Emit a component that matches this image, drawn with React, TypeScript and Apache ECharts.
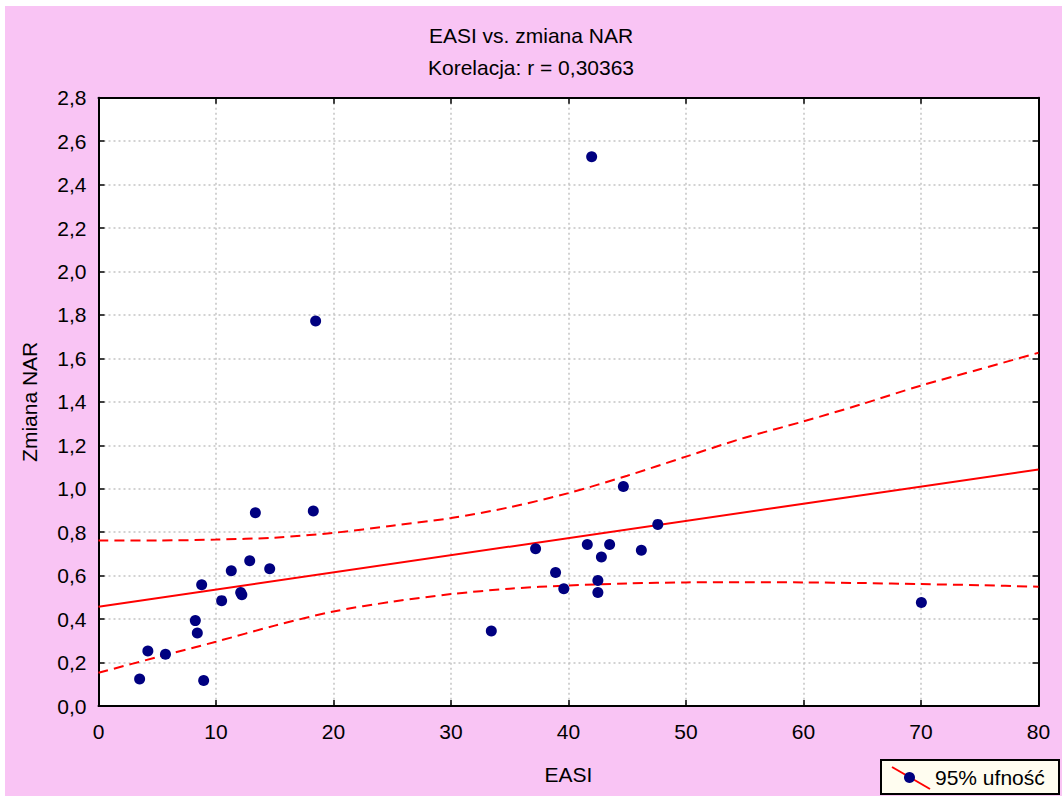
import React, { useEffect, useRef } from "react";
import * as echarts from "echarts";

const titleMain = "EASI vs. zmiana NAR";
const titleSub = "Korelacja: r = 0,30363";
const xName = "EASI";
const yName = "Zmiana NAR";
const legendLabel = "95% ufność";

const easi = [3.5, 4.2, 5.7, 8.95, 8.24, 8.41, 8.78, 10.48, 11.3, 12.1, 12.2, 12.87, 14.57, 13.35, 18.28, 18.48, 41.97, 33.43, 37.2, 38.9, 39.6, 41.6, 42.5, 42.5, 42.8, 43.5, 44.67, 46.2, 47.6, 70.03];
const nar = [0.124, 0.253, 0.238, 0.117, 0.393, 0.336, 0.558, 0.485, 0.623, 0.522, 0.512, 0.669, 0.632, 0.89, 0.898, 1.772, 2.528, 0.345, 0.724, 0.614, 0.54, 0.743, 0.578, 0.522, 0.686, 0.743, 1.01, 0.717, 0.836, 0.476];

const regX = [0, 80];
const regY = [0.457, 1.089];

const bandX = [0, 5, 10, 15, 20, 25, 30, 35, 40, 45, 50, 55, 60, 65, 70, 75, 80];
const upperY = [0.762, 0.762, 0.766, 0.775, 0.797, 0.83, 0.865, 0.915, 0.98, 1.06, 1.148, 1.235, 1.31, 1.39, 1.475, 1.55, 1.626];
const lowerY = [0.153, 0.225, 0.296, 0.37, 0.435, 0.48, 0.515, 0.54, 0.555, 0.564, 0.569, 0.57, 0.569, 0.566, 0.561, 0.556, 0.549];

const FONT = "'Liberation Sans', Arial, sans-serif";
const FS = 21;

export default function App() {
  const ref = useRef<HTMLDivElement>(null);
  useEffect(() => {
    const chart = echarts.init(ref.current!, null, { renderer: "svg" });
    const fmtY = (v: number) => v.toFixed(1).replace(".", ",");
    const axisLine = { show: true, onZero: false, lineStyle: { color: "#000", width: 2 } };
    const axisTick = { show: true, inside: true, length: 6, lineStyle: { color: "#000", width: 1.5 } };
    const grid = { show: true, lineStyle: { color: "#c4c4c4", type: [2, 3], width: 1.5 } };
    chart.setOption({
      animation: false,
      backgroundColor: "#ffffff",
      textStyle: { fontFamily: FONT },
      title: [
        { text: titleMain, left: "center", top: 19.5, textStyle: { fontFamily: FONT, fontSize: FS, fontWeight: "normal", color: "#000" } },
        { text: titleSub, left: "center", top: 52, textStyle: { fontFamily: FONT, fontSize: FS, fontWeight: "normal", color: "#000" } },
      ],
      grid: { left: 98.5, right: 23.5, top: 97.7, bottom: 90, show: true, backgroundColor: "#ffffff", borderWidth: 0 },
      xAxis: [
        {
          type: "value",
          min: 0,
          max: 80,
          interval: 10,
          position: "bottom",
          axisLine,
          axisTick,
          name: xName,
          nameLocation: "middle",
          nameGap: 57.5,
          nameTextStyle: { fontFamily: FONT, fontSize: FS, color: "#000" },
          axisLabel: { fontFamily: FONT, fontSize: FS, color: "#000", margin: 15 },
          splitLine: grid,
        },
        {
          type: "value",
          min: 0,
          max: 80,
          interval: 10,
          position: "top",
          axisLine,
          axisTick,
          axisLabel: { show: false },
          splitLine: { show: false },
        },
      ],
      yAxis: [
        {
          type: "value",
          min: 0,
          max: 2.8,
          interval: 0.2,
          position: "left",
          axisLine,
          axisTick,
          name: yName,
          nameLocation: "middle",
          nameGap: 59,
          nameTextStyle: { fontFamily: FONT, fontSize: FS, color: "#000" },
          axisLabel: { fontFamily: FONT, fontSize: FS, color: "#000", margin: 12, formatter: fmtY },
          splitLine: grid,
        },
        {
          type: "value",
          min: 0,
          max: 2.8,
          interval: 0.2,
          position: "right",
          axisLine,
          axisTick,
          axisLabel: { show: false },
          splitLine: { show: false },
        },
      ],
      series: [
        {
          type: "line",
          data: bandX.map((x, i) => [x, upperY[i]]),
          showSymbol: false,
          smooth: 0.3,
          lineStyle: { color: "#ff0000", width: 2, type: [10, 6] },
          z: 3,
        },
        {
          type: "line",
          data: bandX.map((x, i) => [x, lowerY[i]]),
          showSymbol: false,
          smooth: 0.3,
          lineStyle: { color: "#ff0000", width: 2, type: [10, 6] },
          z: 3,
        },
        {
          type: "line",
          data: regX.map((x, i) => [x, regY[i]]),
          showSymbol: false,
          lineStyle: { color: "#ff0000", width: 2 },
          z: 3,
        },
        {
          type: "scatter",
          data: easi.map((x, i) => [x, nar[i]]),
          symbol: "circle",
          symbolSize: 11,
          itemStyle: { color: "#000080", opacity: 1 },
          z: 5,
        },
      ],
      graphic: [
        {
          type: "rect",
          z: -10,
          silent: true,
          shape: { x: 5, y: 6, width: 1062, height: 796 },
          style: { fill: "#f9c4f4" },
        },
        {
          type: "group",
          z: 100,
          children: [
            { type: "rect", shape: { x: 881, y: 760, width: 178, height: 34 }, style: { fill: "#fffdf0", stroke: "#000", lineWidth: 2 } },
            { type: "line", shape: { x1: 892, y1: 767, x2: 930, y2: 789 }, style: { stroke: "#ff0000", lineWidth: 2 } },
            { type: "circle", shape: { cx: 909.5, cy: 777.5, r: 5.5 }, style: { fill: "#000080" } },
            { type: "text", x: 935, y: 777.5, style: { text: legendLabel, font: `${FS}px ${FONT}`, fill: "#000", verticalAlign: "middle", align: "left" } },
          ],
        },
      ],
    });
    return () => chart.dispose();
  }, []);
  return <div ref={ref} style={{ position: "fixed", left: 0, top: 0, width: 1062, height: 796 }} />;
}
